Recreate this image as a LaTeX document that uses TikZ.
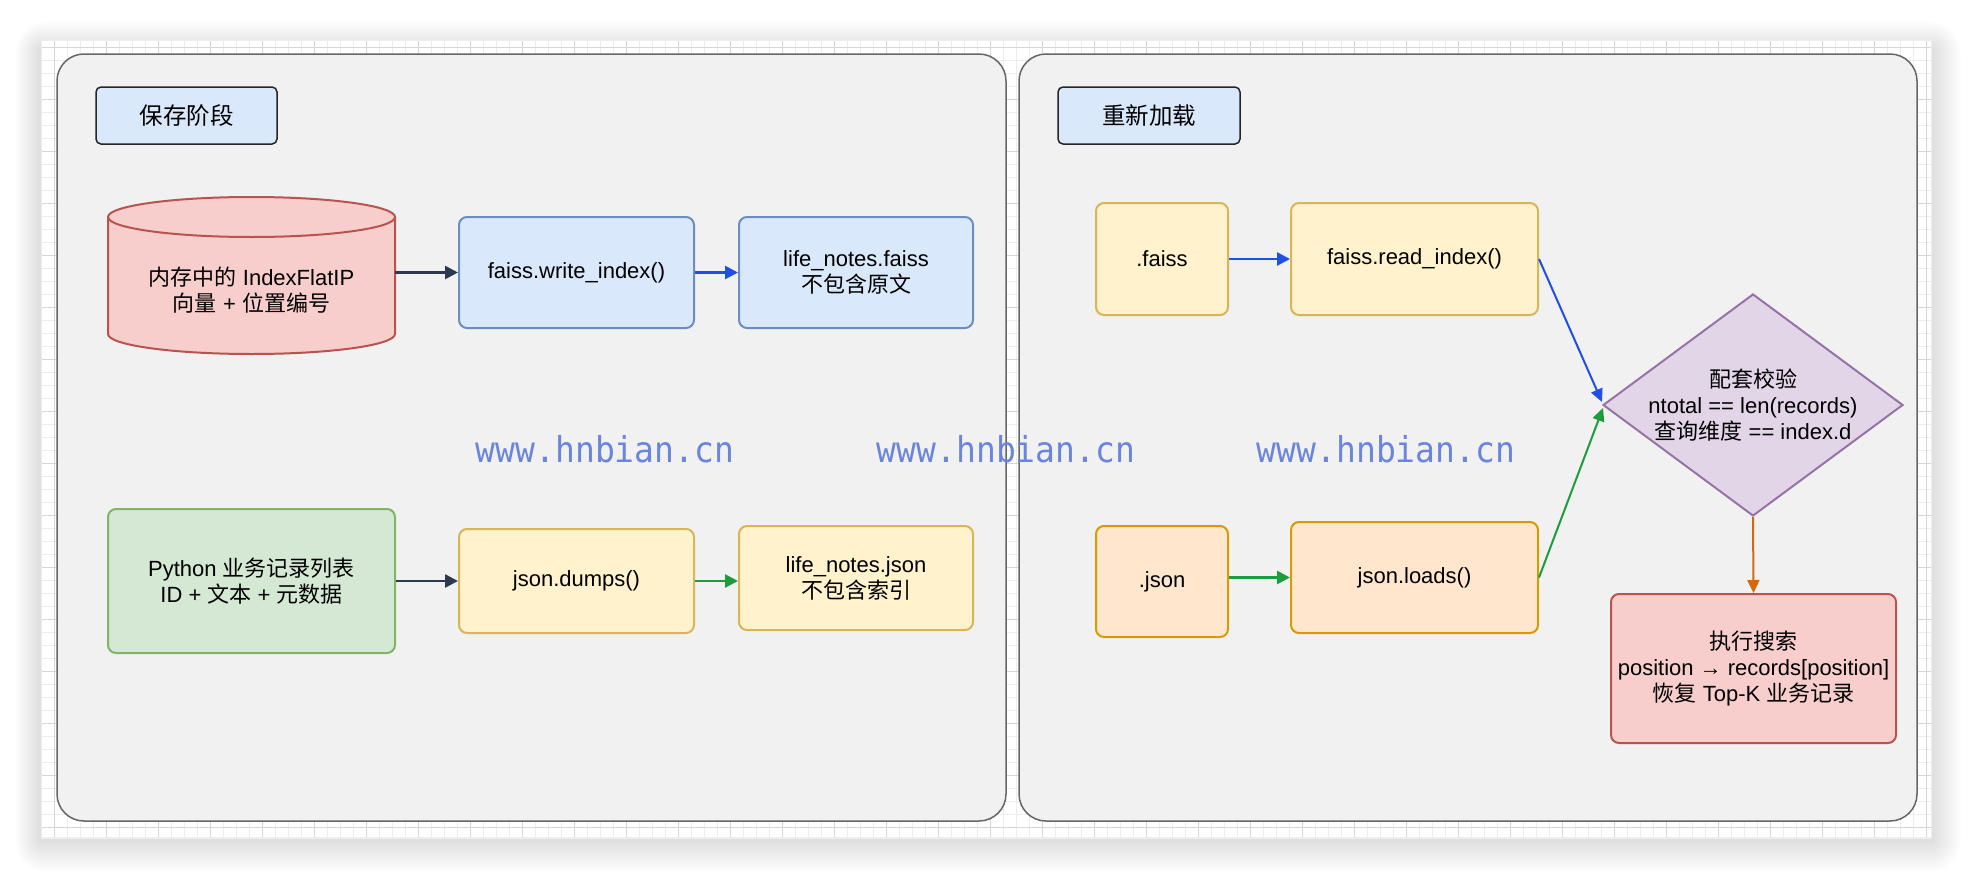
\documentclass[tikz,border=0pt]{standalone}
\usepackage{fontspec}
\setmainfont{Liberation Sans}
\newfontfamily\cjk{Noto Sans CJK SC}
\newfontfamily\wmfont{DejaVu Sans Mono}
\usetikzlibrary{arrows.meta,shapes.geometric,calc}
\newcommand\zh[1]{{\cjk #1}}
\newcommand\fsmain{\fontsize{22}{26}\selectfont}
\newcommand\fstag{\fontsize{23.5}{28}\selectfont}
\definecolor{panelfill}{HTML}{F1F1F1}
\definecolor{paneldraw}{HTML}{666666}
\definecolor{bfill}{HTML}{DAE8FC}
\definecolor{bdraw}{HTML}{6C8EBF}
\definecolor{yfill}{HTML}{FFF2CC}
\definecolor{ydraw}{HTML}{D6B656}
\definecolor{gfill}{HTML}{D5E8D4}
\definecolor{gdraw}{HTML}{82B366}
\definecolor{ofill}{HTML}{FFE6CC}
\definecolor{odraw}{HTML}{D79B00}
\definecolor{rfill}{HTML}{F8CECC}
\definecolor{rdraw}{HTML}{B85450}
\definecolor{pfill}{HTML}{E1D5E7}
\definecolor{pdraw}{HTML}{9673A6}
\definecolor{cdark}{HTML}{2D3A4E}
\definecolor{cblue}{HTML}{1F4FE6}
\definecolor{cgreen}{HTML}{1E9B3C}
\definecolor{corange}{HTML}{D4680F}
\definecolor{wmcol}{HTML}{6A85DA}
\definecolor{gridminor}{HTML}{EDEDED}
\definecolor{gridmajor}{HTML}{D6D6D6}
\begin{document}
\begin{tikzpicture}[x=1pt,y=-1pt,
  panel/.style={rectangle, rounded corners=27pt, fill=panelfill, draw=paneldraw, line width=1.5pt, inner sep=0pt},
  tagbox/.style={rectangle, rounded corners=5pt, fill=bfill, draw=black!85, line width=1.5pt, inner sep=0pt, font=\fstag},
  box/.style={rectangle, rounded corners=8pt, line width=2pt, inner sep=0pt, align=center, font=\fsmain},
  bluebox/.style={box, fill=bfill, draw=bdraw},
  yelbox/.style={box, fill=yfill, draw=ydraw},
  grnbox/.style={box, fill=gfill, draw=gdraw},
  orgbox/.style={box, fill=ofill, draw=odraw},
  redbox/.style={box, fill=rfill, draw=rdraw},
  txt/.style={align=center, font=\fsmain, inner sep=0pt},
  arr/.style={-{Triangle[length=13pt,width=13pt]}, line width=2.6pt},
  arrthin/.style={-{Triangle[length=13pt,width=12pt]}, line width=2pt},
  wm/.style={text=wmcol, font=\wmfont\fontsize{33}{33}\selectfont, anchor=base, inner sep=0pt}
]
\useasboundingbox (0,0) rectangle (1972,878);
\fill[white] (0,0) rectangle (1972,878);
% soft canvas shadow (layered)
\foreach \i in {2,4,...,32}
  \fill[black, opacity=0.009, rounded corners=\i pt]
    ({41-0.8*\i},{40-0.9*\i+10}) rectangle ({1932+0.9*\i},{838+\i+2});
\fill[white] (41,40) rectangle (1932,838);
\begin{scope}
  \clip (41,40) rectangle (1932,838);
  \foreach \x in {41,54,...,1932} \draw[gridminor, line width=1pt] (\x,40) -- (\x,838);
  \foreach \y in {47,60,...,838} \draw[gridminor, line width=1pt] (41,\y) -- (1932,\y);
  \foreach \x in {54,106,...,1932} \draw[gridmajor, line width=1pt] (\x,40) -- (\x,838);
  \foreach \y in {47,99,...,838} \draw[gridmajor, line width=1pt] (41,\y) -- (1932,\y);
  \draw[gridminor, line width=1.5pt] (41,40) rectangle (1932,838);
\end{scope}

% panels
\node[panel, minimum width=949pt, minimum height=767pt] (lp) at (531.5,437.5) {};
\node[panel, minimum width=898pt, minimum height=767pt] (rp) at (1468,437.5) {};

% stage labels
\node[tagbox, minimum width=181pt, minimum height=57pt] (t1) at (186.5,115.5) {\zh{保存阶段}};
\node[tagbox, minimum width=182pt, minimum height=57pt] (t2) at (1149,115.5) {\zh{重新加载}};

% watermarks
\node[wm] (w1) at (605,462) {\scalebox{1}[1.08]{www.hnbian.cn}};
\node[wm] (w2) at (1006,462) {\scalebox{1}[1.08]{www.hnbian.cn}};
\node[wm] (w3) at (1386,462) {\scalebox{1}[1.08]{www.hnbian.cn}};

% cylinder
\node[minimum width=287pt, minimum height=157pt, inner sep=0pt] (mem) at (251.5,275.5) {};
\filldraw[fill=rfill, draw=rdraw, line width=2pt]
  (108,217) -- (108,334) arc[start angle=180, end angle=0, x radius=143.5, y radius=20]
  -- (395,217) arc[start angle=0, end angle=-180, x radius=143.5, y radius=20] -- cycle;
\draw[rdraw, line width=2pt] (108,217) arc[start angle=180, end angle=0, x radius=143.5, y radius=20];
\node[txt] (memtxt) at (251.5,290) {\zh{内存中的} IndexFlatIP\\\zh{向量} + \zh{位置编号}};

% left side boxes
\node[bluebox, minimum width=235pt, minimum height=111pt] (wr) at (576.5,272.5) {faiss.write\_index()};
\node[bluebox, minimum width=234pt, minimum height=111pt] (lf) at (856,272.5) {life\_notes.faiss\\\zh{不包含原文}};
\node[grnbox, minimum width=287pt, minimum height=144pt] (py) at (251.5,581) {Python \zh{业务记录列表}\\ID + \zh{文本} + \zh{元数据}};
\node[yelbox, minimum width=235pt, minimum height=104pt] (jd) at (576.5,581) {json.dumps()};
\node[yelbox, minimum width=234pt, minimum height=104pt] (lj) at (856,578) {life\_notes.json\\\zh{不包含索引}};

% right side boxes
\node[yelbox, minimum width=132pt, minimum height=112pt] (fa) at (1162,259) {.faiss};
\node[yelbox, minimum width=247pt, minimum height=112pt] (ri) at (1414.5,259) {faiss.read\_index()};
\node[orgbox, minimum width=132pt, minimum height=111pt] (js) at (1162,581.5) {.json};
\node[orgbox, minimum width=247pt, minimum height=111pt] (jl) at (1414.5,577.5) {json.loads()};
\node[diamond, fill=pfill, draw=pdraw, line width=2pt, inner sep=0pt, minimum width=300pt, minimum height=222pt] (chk) at (1753,405) {};
\node[txt] (chktxt) at (chk.center) {\zh{配套校验}\\ntotal == len(records)\\\zh{查询维度} == index.d};
\node[redbox, minimum width=285pt, minimum height=149pt] (ex) at (1753.5,668.5) {\zh{执行搜索}\\position → records[position]\\\zh{恢复} Top-K \zh{业务记录}};

% connectors
\draw[arr, cdark] (mem.east |- wr.west) -- (wr.west);
\draw[arr, cblue] (wr.east) -- (lf.west);
\draw[arr, cdark] (py.east) -- (jd.west);
\draw[arr, cgreen] (jd.east) -- (lj.west |- jd.east);
\draw[arr, cblue] (fa.east) -- (ri.west);
\draw[arr, cgreen] (js.east |- jl.west) -- (jl.west);
\draw[arrthin, cblue] (ri.east) -- ($(chk.west)+(0,-3)$);
\draw[arrthin, cgreen] (jl.east) -- ($(chk.west)+(1,3)$);
\draw[arrthin, corange] (chk.south) -- (ex.north);
\end{tikzpicture}
\end{document}
